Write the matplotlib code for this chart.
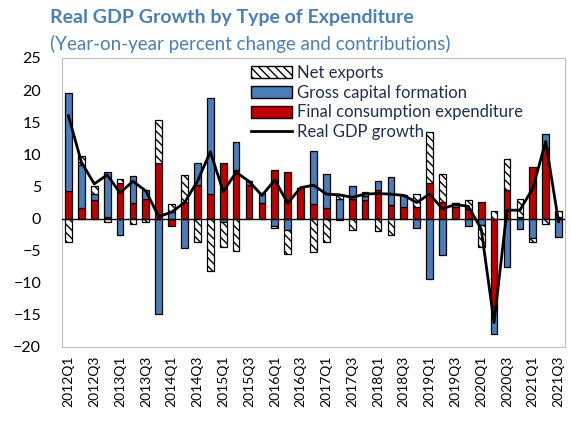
import numpy as np
import matplotlib
matplotlib.use("Agg")
import matplotlib.pyplot as plt
import matplotlib.patches as mpatches
from matplotlib.lines import Line2D

plt.rcParams["font.family"] = ["Lato", "DejaVu Sans"]
plt.rcParams["hatch.linewidth"] = 1.0

quarters = [f"{y}Q{q}" for y in range(2012, 2022) for q in range(1, 5)][:39]

fce = [4.3, 1.6, 2.9, 0.3, 5.5, 2.4, 3.1, 8.6, -1.1, 2.6, 5.2, 3.8, 8.6, 7.6, 5.2,
       2.4, 7.5, 7.3, 4.8, 2.2, 1.6, -0.2, 3.1, 2.9, 4.5, 2.1, 1.8, 1.8, 5.6, 2.6,
       1.8, 1.5, 2.6, -13.7, 4.5, 0.3, 8.1, 11.0, 0.3]
gcf = [15.3, 6.7, 0.9, 6.9, -2.5, 4.3, 1.3, -14.9, 1.0, -4.6, 3.4, 14.9, -0.5, 4.3,
       0.6, 1.5, -1.2, -1.8, 0.0, 8.3, 5.4, 3.0, 2.0, 0.6, 1.4, 4.3, 1.9, -1.5,
       -9.4, -5.7, 0.6, -1.1, -1.0, -4.2, -7.6, -1.6, -3.1, 2.1, -2.9]
nx = [-3.6, 1.4, 1.3, -0.5, 0.7, -0.9, -0.5, 6.7, 1.3, 4.2, -3.6, -8.2, -4.0, -5.0,
      0.0, 0.0, -0.2, -3.7, 0.0, -5.2, -3.6, 0.7, -1.8, 0.7, -1.9, -2.6, 0.0, 2.0,
      7.8, 4.4, 0.0, 1.4, -3.4, 1.2, 4.7, 2.7, -0.5, -0.8, 0.9]
gdp = [16.0, 8.8, 5.4, 6.8, 4.0, 5.8, 4.3, 0.3, 1.0, 2.5, 5.8, 10.4, 4.2, 7.2, 5.8,
       3.6, 6.0, 2.4, 4.8, 5.2, 3.8, 3.7, 3.3, 3.8, 3.9, 3.8, 3.6, 2.5, 3.8, 1.5,
       2.2, 1.9, -1.6, -16.2, 1.3, 1.3, 4.7, 12.0, -0.5]

RED = "#c00000"
BLUE = "#4a7ebb"
TITLE_BLUE = "#4a7fb8"

fig = plt.figure(figsize=(5.71, 4.23), dpi=100)
ax = fig.add_axes([0.1086, 0.1797, 0.8809, 0.6832])

x = np.arange(len(quarters))
pos_bottom = np.zeros(len(x))
neg_bottom = np.zeros(len(x))
series = [(fce, RED, None), (gcf, BLUE, None), (nx, "white", "\\\\\\\\")]
for vals, col, hatch in series:
    v = np.array(vals)
    bottom = np.where(v >= 0, pos_bottom, neg_bottom)
    ax.bar(x, v, bottom=bottom, width=0.52, color=col, edgecolor="black",
           linewidth=0.9, hatch=hatch, zorder=2)
    pos_bottom += np.where(v >= 0, v, 0)
    neg_bottom += np.where(v < 0, v, 0)

ax.axhline(0, color="black", linewidth=1, zorder=3)
ax.plot(x, gdp, color="black", linewidth=2, zorder=4)

ax.set_xlim(-0.5, len(x) - 0.5)
ax.set_ylim(-20, 25)
ax.set_yticks(range(-20, 30, 5))
ax.set_xticks(x[::2])
ax.set_xticklabels(quarters[::2], rotation=90, fontsize=10)
ax.tick_params(axis="y", length=0, pad=15, labelsize=11.5)
ax.tick_params(axis="x", length=0, pad=6)
for s in ax.spines.values():
    s.set_color("#bfbfbf")

handles = [
    mpatches.Patch(facecolor="white", edgecolor="black", hatch="\\\\\\\\", label="Net exports"),
    mpatches.Patch(facecolor=BLUE, edgecolor="black", label="Gross capital formation"),
    mpatches.Patch(facecolor=RED, edgecolor="black", label="Final consumption expenditure"),
    Line2D([0], [0], color="black", linewidth=2, label="Real GDP growth"),
]
ax.legend(handles=handles, loc="upper left", bbox_to_anchor=(0.355, 1.01),
          frameon=False, fontsize=12, handlelength=2.5, handleheight=0.75,
          handletextpad=0.3, labelspacing=0.22, borderaxespad=0.2,
          labelcolor="#1f2f4f")

fig.text(0.0876, 0.958, "Real GDP Growth by Type of Expenditure", color=TITLE_BLUE,
         fontsize=14, fontweight="bold", va="center")
fig.text(0.0876, 0.895, "(Year-on-year percent change and contributions)",
         color=TITLE_BLUE, fontsize=13.5, va="center")

fig.savefig("out.png", dpi=100)
